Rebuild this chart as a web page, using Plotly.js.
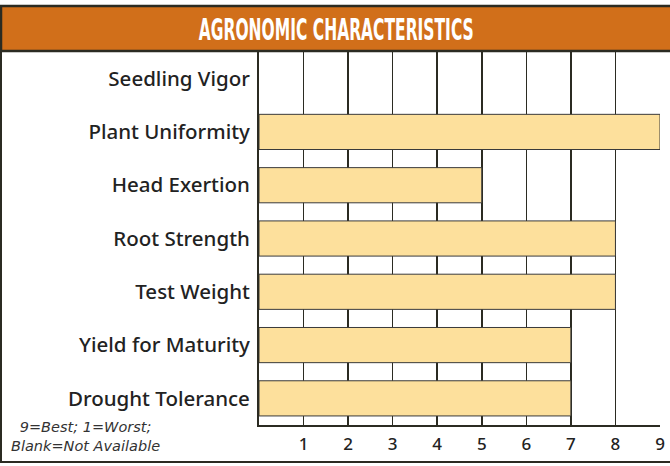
<!DOCTYPE html>
<html>
<head>
<meta charset="utf-8">
<script src="https://cdn.plot.ly/plotly-3.0.1.min.js"></script>
<style>
html,body{margin:0;padding:0;background:#fff;}
#chart{width:670px;height:466px;}
</style>
</head>
<body>
<div id="chart"></div>
<script>
const chartTitle = "AGRONOMIC CHARACTERISTICS";
const categories = ["Seedling Vigor", "Plant Uniformity", "Head Exertion", "Root Strength", "Test Weight", "Yield for Maturity", "Drought Tolerance"];
const ratings = [null, 9, 5, 8, 8, 7, 7];
const tickValues = [1, 2, 3, 4, 5, 6, 7, 8, 9];
const tickLabels = ["1", "2", "3", "4", "5", "6", "7", "8", "9"];
const noteText = "9=Best; 1=Worst;<br>Blank=Not Available";

const W = 670, H = 466;
const M = {l: 259, r: 10, t: 52, b: 41};
const pw = W - M.l - M.r, ph = H - M.t - M.b;
const px = x => (x - M.l) / pw;
const py = y => (H - M.b - y) / ph;

const dark = "#2b2b22";

const trace = {
  type: "bar",
  orientation: "h",
  y: categories,
  x: ratings,
  width: 0.66,
  marker: {color: "#fde09c", line: {color: "#3a3a3a", width: 1}},
  hoverinfo: "skip"
};

const layout = {
  width: W, height: H,
  margin: M,
  paper_bgcolor: "#ffffff",
  plot_bgcolor: "#ffffff",
  showlegend: false,
  xaxis: {
    range: [0, 9],
    tickvals: tickValues,
    ticktext: tickLabels,
    showgrid: true,
    gridcolor: dark,
    gridwidth: 1.5,
    zeroline: false,
    showline: true,
    linecolor: dark,
    linewidth: 2,
    ticks: "",
    ticklabelstandoff: 3,
    tickfont: {family: "Noto Sans, sans-serif", size: 17, color: "#222", weight: 500},
    fixedrange: true
  },
  yaxis: {
    type: "category",
    categoryorder: "array",
    categoryarray: categories,
    autorange: "reversed",
    showgrid: false,
    zeroline: false,
    showline: true,
    linecolor: dark,
    linewidth: 2,
    ticks: "",
    ticklabelstandoff: 3,
    tickfont: {family: "Noto Sans, sans-serif", size: 20.5, color: "#222", weight: 500},
    fixedrange: true
  },
  shapes: [
    {type: "rect", xref: "paper", yref: "paper", x0: px(1), x1: px(672), y0: py(462), y1: py(6),
     line: {color: dark, width: 2}, fillcolor: "rgba(0,0,0,0)", layer: "above"},
    {type: "rect", xref: "paper", yref: "paper", x0: px(1), x1: px(672), y0: py(51), y1: py(6),
     line: {color: dark, width: 2.5}, fillcolor: "#d16f1a", layer: "above"}
  ],
  annotations: [
    {xref: "paper", yref: "paper", x: px(336), y: py(30), xanchor: "center", yanchor: "middle",
     text: chartTitle, showarrow: false,
     font: {family: "Liberation Sans Narrow, DejaVu Sans Condensed, sans-serif", size: 30, color: "#ffffff", weight: 700}},
    {xref: "paper", yref: "paper", x: px(85), y: py(436), xanchor: "center", yanchor: "middle",
     text: "<i>" + noteText + "</i>", showarrow: false, align: "center",
     font: {family: "DejaVu Sans, sans-serif", size: 14.5, color: "#333"}}
  ]
};

Plotly.newPlot("chart", [trace], layout, {displayModeBar: false, staticPlot: true}).then(() => {
  const t = document.querySelector(".annotation text.annotation-text");
  if (t) { t.setAttribute("textLength", "275"); t.setAttribute("lengthAdjust", "spacingAndGlyphs"); }
});
</script>
</body>
</html>
